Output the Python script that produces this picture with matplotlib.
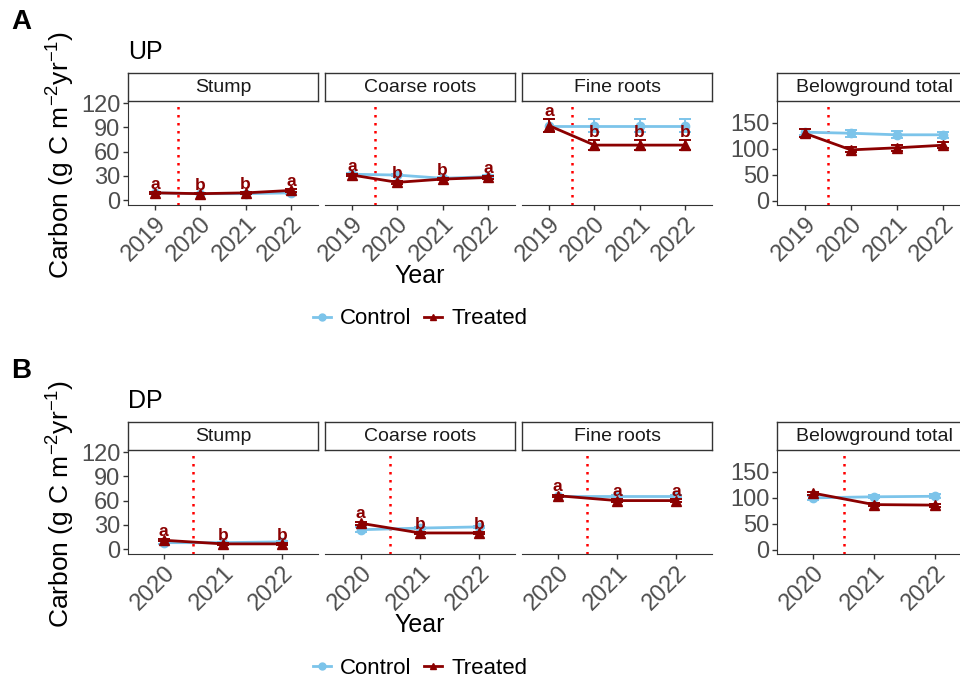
import matplotlib
matplotlib.use("Agg")
import matplotlib.pyplot as plt
from matplotlib.lines import Line2D

plt.rcParams["font.family"] = ["Liberation Sans", "DejaVu Sans"]
plt.rcParams["mathtext.fontset"] = "custom"
plt.rcParams["mathtext.rm"] = "Liberation Sans"
plt.rcParams["mathtext.it"] = "Liberation Sans:italic"
plt.rcParams["mathtext.bf"] = "Liberation Sans:bold"

# ---- data (g C m-2 yr-1) ----
up_years = ["2019", "2020", "2021", "2022"]
dp_years = ["2020", "2021", "2022"]

up_stump_ctrl = [9, 8, 8, 9]
up_stump_ctrl_se = [1, 1, 1, 1]
up_stump_trt = [9, 8, 9, 12]
up_stump_trt_se = [1, 1, 1, 1.5]
up_stump_letters = ["a", "b", "b", "a"]

up_coarse_ctrl = [32, 31, 27, 29]
up_coarse_ctrl_se = [1.5, 1.5, 1.5, 1.5]
up_coarse_trt = [31, 22, 26, 28]
up_coarse_trt_se = [1.5, 1.5, 1.5, 1.5]
up_coarse_letters = ["a", "b", "b", "a"]

up_fine_ctrl = [92, 92, 92, 92]
up_fine_ctrl_se = [8, 8, 8, 8]
up_fine_trt = [92, 68, 68, 68]
up_fine_trt_se = [8, 6, 6, 6]
up_fine_letters = ["a", "b", "b", "b"]

up_total_ctrl = [132, 130, 127, 127]
up_total_ctrl_se = [6, 7, 7, 6]
up_total_trt = [130, 98, 102, 107]
up_total_trt_se = [8, 5, 6, 6]

dp_stump_ctrl = [8, 8, 9]
dp_stump_ctrl_se = [1.5, 1, 1]
dp_stump_trt = [11, 6.5, 6.5]
dp_stump_trt_se = [1.5, 1, 1]
dp_stump_letters = ["a", "b", "b"]

dp_coarse_ctrl = [24, 26, 27.5]
dp_coarse_ctrl_se = [3, 1.5, 1.5]
dp_coarse_trt = [32, 20, 20]
dp_coarse_trt_se = [2, 1.5, 1.5]
dp_coarse_letters = ["a", "b", "b"]

dp_fine_ctrl = [66, 66, 66]
dp_fine_ctrl_se = [1.5, 1.5, 1.5]
dp_fine_trt = [66, 60, 60]
dp_fine_trt_se = [1.5, 1.5, 1.5]
dp_fine_letters = ["a", "a", "a"]

dp_total_ctrl = [100, 102, 103]
dp_total_ctrl_se = [4, 3, 4]
dp_total_trt = [109, 87, 86]
dp_total_trt_se = [3, 3, 3]

CTRL = "#7CC4EA"
TRT = "#8B0000"
AXC = "#333333"
TICKC = "#4D4D4D"

W, H = 960, 679
fig = plt.figure(figsize=(W / 100, H / 100), dpi=100)


def px_axes(x0, y0, x1, y1):
    return fig.add_axes([x0 / W, 1 - y1 / H, (x1 - x0) / W, (y1 - y0) / H])


def strip(x0, x1, top, label):
    s = px_axes(x0, top - 28, x1, top)
    s.set_xticks([])
    s.set_yticks([])
    for sp in s.spines.values():
        sp.set_color(AXC)
        sp.set_linewidth(1.0)
    s.text(0.5, 0.47, label, transform=s.transAxes, ha="center", va="center",
           fontsize=14, color="#1A1A1A")


def panel(x0, x1, top, years, ctrl, ctrl_se, trt, trt_se, letters, ylim, yticks, show_y, label):
    ax = px_axes(x0, top, x1, top + 104)
    strip(x0, x1, top, label)
    xs = list(range(len(years)))
    ax.axvline(0.5, color="#FF0000", ls=(0, (1, 2.2)), lw=1.8, zorder=1)
    ax.errorbar(xs, ctrl, yerr=ctrl_se, fmt="-o", color=CTRL, lw=2, ms=6,
                capsize=4, elinewidth=1.4, capthick=1.4, zorder=2)
    ax.errorbar(xs, trt, yerr=trt_se, fmt="-^", color=TRT, lw=2, ms=7,
                capsize=4, elinewidth=1.4, capthick=1.4, zorder=3)
    if letters:
        for x, m, e, t in zip(xs, trt, trt_se, letters):
            ax.annotate(t, (x, m + e), xytext=(0, 5.5), textcoords="offset points",
                        ha="center", va="center", fontsize=12.5, fontweight="bold",
                        color=TRT, zorder=4)
    ax.set_xlim(-0.6, len(years) - 0.4)
    ax.set_ylim(*ylim)
    ax.set_xticks(xs)
    ax.set_xticklabels(years, rotation=45, ha="right", va="top", rotation_mode="anchor")
    ax.spines["top"].set_visible(False)
    ax.spines["right"].set_visible(False)
    ax.spines["bottom"].set_color(AXC)
    ax.spines["left"].set_color(AXC)
    ax.tick_params(axis="both", colors=AXC, labelcolor=TICKC, labelsize=17,
                   length=3.5, width=1, pad=2)
    if show_y:
        ax.set_yticks(yticks)
    else:
        ax.spines["left"].set_visible(False)
        ax.set_yticks([])
    ax.set_facecolor("none")
    return ax


def row(dy, tag, site, years, sets, total):
    top = 101 + dy
    xs_px = [(128, 318), (325, 515), (522, 712)]
    names = ["Stump", "Coarse roots", "Fine roots"]
    for i, ((x0, x1), name, d) in enumerate(zip(xs_px, names, sets)):
        panel(x0, x1, top, years, *d, (-6, 122.5), [0, 30, 60, 90, 120], i == 0, name)
    panel(777, 971, top, years, *total, None, (-8, 192), [0, 50, 100, 150], True,
          "Belowground total")
    fig.text(11 / W, 1 - (22 + dy) / H, tag, fontsize=20, fontweight="bold",
             ha="left", va="center")
    fig.text(128 / W, 1 - (52 + dy) / H, site, fontsize=18, ha="left", va="center")
    fig.text(61 / W, 1 - (155 + dy) / H, r"Carbon (g C m$^{-2}$yr$^{-1}$)", fontsize=19,
             rotation=90, ha="center", va="center")
    fig.text(420 / W, 1 - (276 + dy) / H, "Year", fontsize=18, ha="center", va="center")
    handles = [
        Line2D([], [], color=CTRL, marker="o", lw=2, ms=5),
        Line2D([], [], color=TRT, marker="^", lw=2, ms=5),
    ]
    fig.legend(handles, ["Control", "Treated"], loc="center",
               bbox_to_anchor=(420 / W, 1 - (319 + dy) / H), ncol=2, frameon=False,
               fontsize=16, handlelength=0.8, handletextpad=0.4, columnspacing=0.6)


row(0, "A", "UP", up_years,
    [(up_stump_ctrl, up_stump_ctrl_se, up_stump_trt, up_stump_trt_se, up_stump_letters),
     (up_coarse_ctrl, up_coarse_ctrl_se, up_coarse_trt, up_coarse_trt_se, up_coarse_letters),
     (up_fine_ctrl, up_fine_ctrl_se, up_fine_trt, up_fine_trt_se, up_fine_letters)],
    (up_total_ctrl, up_total_ctrl_se, up_total_trt, up_total_trt_se))

row(349, "B", "DP", dp_years,
    [(dp_stump_ctrl, dp_stump_ctrl_se, dp_stump_trt, dp_stump_trt_se, dp_stump_letters),
     (dp_coarse_ctrl, dp_coarse_ctrl_se, dp_coarse_trt, dp_coarse_trt_se, dp_coarse_letters),
     (dp_fine_ctrl, dp_fine_ctrl_se, dp_fine_trt, dp_fine_trt_se, dp_fine_letters)],
    (dp_total_ctrl, dp_total_ctrl_se, dp_total_trt, dp_total_trt_se))

fig.savefig("out.png", dpi=100)
